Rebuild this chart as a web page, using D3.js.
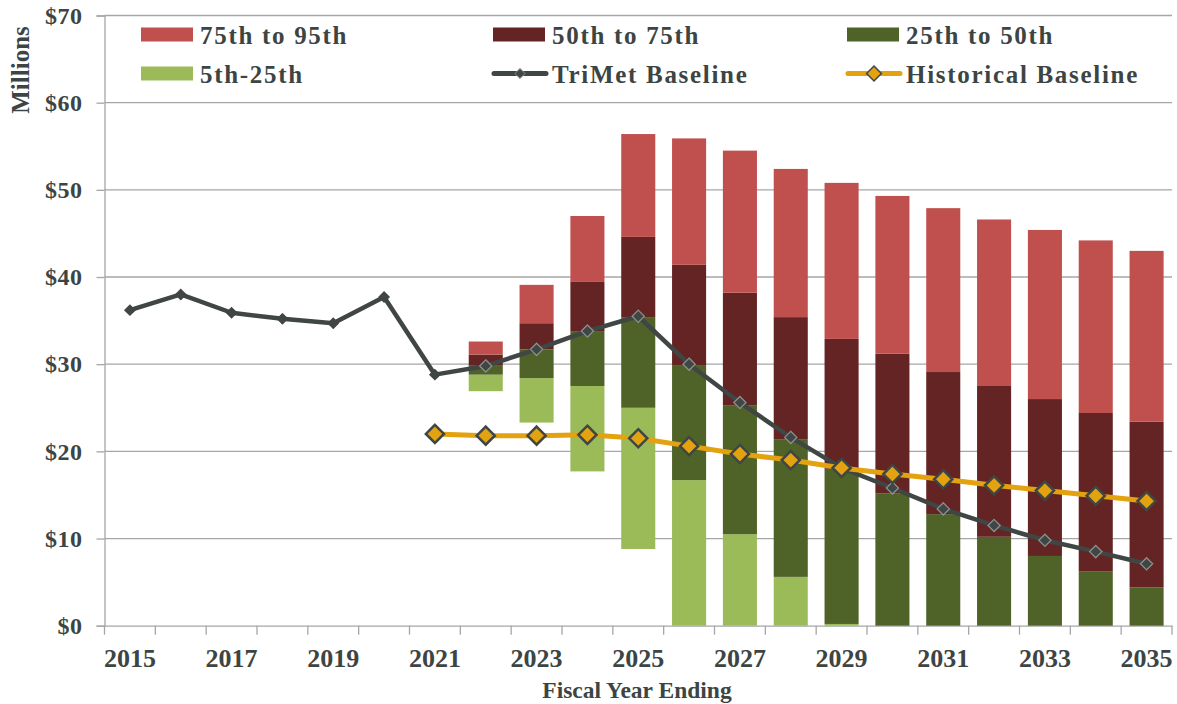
<!DOCTYPE html>
<html>
<head>
<meta charset="utf-8">
<script src="https://cdn.jsdelivr.net/npm/d3@7"></script>
<style>
  html, body { margin: 0; padding: 0; background: #fff; }
  svg { display: block; }
  text { font-family: "Liberation Serif", "Times New Roman", serif; font-weight: bold; fill: #3c4543; }
</style>
</head>
<body>
<svg id="chart" width="1177" height="704"></svg>
<script>
// Fiscal years shown on the x axis
const years = d3.range(2015, 2036);

// Baseline forecasts ($ millions)
const trimetBaseline = [36.2, 38.0, 35.9, 35.2, 34.7, 37.7, 28.8, 29.8, 31.7, 33.8, 35.5,
                        30.0, 25.6, 21.6, 18.1, 15.8, 13.4, 11.5, 9.8, 8.5, 7.1];
const historicalBaseline = [null, null, null, null, null, null,
                            22.0, 21.8, 21.8, 21.9, 21.5, 20.6, 19.7, 19.0, 18.1, 17.4,
                            16.8, 16.1, 15.5, 14.9, 14.3];

// Percentile outcomes for 2022-2035 ($ millions, floored at zero)
const rangeYears = d3.range(2022, 2036);
const pct05 = [26.9, 23.3, 17.7, 8.8, 0, 0, 0, 0, 0, 0, 0, 0, 0, 0];
const pct25 = [28.8, 28.4, 27.5, 25.0, 16.7, 10.5, 5.6, 0.2, 0, 0, 0, 0, 0, 0];
const pct50 = [29.9, 31.7, 33.8, 35.4, 29.9, 25.3, 21.4, 18.0, 15.2, 12.8, 10.2, 8.0, 6.2, 4.4];
const pct75 = [31.1, 34.7, 39.5, 44.6, 41.4, 38.2, 35.4, 32.9, 31.2, 29.1, 27.5, 26.0, 24.4, 23.4];
const pct95 = [32.6, 39.1, 47.0, 56.4, 55.9, 54.5, 52.4, 50.8, 49.3, 47.9, 46.6, 45.4, 44.2, 43.0];

// Y axis ticks
const yTicks = [0, 10, 20, 30, 40, 50, 60, 70];

// Bands: each spans two neighbouring percentiles
const bands = [
  { name: "5th-25th",     lo: pct05, hi: pct25, color: "#9bbb59" },
  { name: "25th to 50th", lo: pct25, hi: pct50, color: "#4f6228" },
  { name: "50th to 75th", lo: pct50, hi: pct75, color: "#632423" },
  { name: "75th to 95th", lo: pct75, hi: pct95, color: "#c0504d" }
];

const gridColor = "#a6a6a6";
const trimetColor = "#3f4644";
const histColor = "#e3a20f";

const svg = d3.select("#chart");
const plotLeft = 104.5, plotRight = 1172, plotTop = 15.5, plotBottom = 625.7;

const x = d3.scaleBand().domain(years).range([plotLeft, plotRight])
  .paddingInner(0.33).paddingOuter(0.165);
const y = d3.scaleLinear().domain([0, 70]).range([plotBottom, plotTop]);

// Horizontal gridlines
svg.append("g").selectAll("line").data(yTicks.filter(d => d > 0)).join("line")
  .attr("x1", plotLeft).attr("x2", plotRight)
  .attr("y1", d => y(d)).attr("y2", d => y(d))
  .attr("stroke", gridColor).attr("stroke-width", 1.3);

// Y axis
const yAxis = svg.append("g").attr("transform", `translate(${plotLeft},0)`)
  .call(d3.axisLeft(y).tickValues(yTicks).tickFormat(d => "$" + d).tickSize(8).tickPadding(14));
yAxis.select(".domain").attr("stroke", gridColor).attr("stroke-width", 1.3);
yAxis.selectAll(".tick line").attr("stroke", gridColor).attr("stroke-width", 1.3);
yAxis.selectAll(".tick text")
  .attr("font-size", 24).attr("letter-spacing", 0.5).attr("fill", "#3c4543")
  .style("font-family", '"Liberation Serif", "Times New Roman", serif').style("font-weight", "bold");

// X axis with ticks at band boundaries
const step = x.step();
const boundaries = d3.range(years.length + 1).map(i => plotLeft + i * step);
const xAxis = svg.append("g").attr("transform", `translate(0,${plotBottom})`)
  .call(d3.axisBottom(x).tickSize(0).tickPadding(23)
    .tickFormat(d => (d % 2 === 1 ? String(d) : "")));
xAxis.select(".domain").attr("stroke", gridColor).attr("stroke-width", 1.3);
xAxis.selectAll(".tick text")
  .attr("font-size", 26).attr("fill", "#3c4543")
  .style("font-family", '"Liberation Serif", "Times New Roman", serif').style("font-weight", "bold");
svg.append("g").selectAll("line").data(boundaries).join("line")
  .attr("x1", d => d).attr("x2", d => d)
  .attr("y1", plotBottom).attr("y2", plotBottom + 9)
  .attr("stroke", gridColor).attr("stroke-width", 1.3);

// Percentile range bars
bands.forEach(b => {
  svg.append("g").selectAll("rect").data(rangeYears.map((yr, i) => ({ yr, lo: b.lo[i], hi: b.hi[i] })))
    .join("rect")
    .attr("x", d => x(d.yr))
    .attr("width", x.bandwidth())
    .attr("y", d => y(d.hi))
    .attr("height", d => Math.max(0, y(d.lo) - y(d.hi)))
    .attr("fill", b.color);
});

// TriMet baseline line
const trimetPts = years.map((yr, i) => ({ yr, v: trimetBaseline[i] }));
svg.append("path").datum(trimetPts)
  .attr("d", d3.line().x(d => x(d.yr) + x.bandwidth() / 2).y(d => y(d.v)))
  .attr("fill", "none").attr("stroke", trimetColor).attr("stroke-width", 4.5)
  .attr("stroke-linejoin", "round");
svg.append("g").selectAll("path").data(trimetPts).join("path")
  .attr("transform", d => `translate(${x(d.yr) + x.bandwidth() / 2},${y(d.v)})`)
  .attr("d", d => d3.symbol().type(d3.symbolDiamond2).size(d.yr >= 2022 ? 95 : 65)())
  .attr("fill", trimetColor)
  .attr("stroke", d => (d.yr >= 2022 ? "#8a908e" : trimetColor)).attr("stroke-width", 1.3);

// Historical baseline line
const histPts = years.map((yr, i) => ({ yr, v: historicalBaseline[i] })).filter(d => d.v !== null);
svg.append("path").datum(histPts)
  .attr("d", d3.line().x(d => x(d.yr) + x.bandwidth() / 2).y(d => y(d.v)))
  .attr("fill", "none").attr("stroke", histColor).attr("stroke-width", 5)
  .attr("stroke-linejoin", "round");
svg.append("g").selectAll("path").data(histPts).join("path")
  .attr("transform", d => `translate(${x(d.yr) + x.bandwidth() / 2},${y(d.v)})`)
  .attr("d", d3.symbol().type(d3.symbolDiamond2).size(210)())
  .attr("fill", histColor).attr("stroke", "#3f4644").attr("stroke-width", 2.5);

// Legend
const legendItems = [
  { name: "75th to 95th", type: "rect", color: "#c0504d", lx: 141, row: 0 },
  { name: "50th to 75th", type: "rect", color: "#632423", lx: 493, row: 0 },
  { name: "25th to 50th", type: "rect", color: "#4f6228", lx: 847, row: 0 },
  { name: "5th-25th", type: "rect", color: "#9bbb59", lx: 141, row: 1 },
  { name: "TriMet Baseline", type: "trimet", color: trimetColor, lx: 493, row: 1 },
  { name: "Historical Baseline", type: "hist", color: histColor, lx: 847, row: 1 }
];
const rowY = [34.5, 73.5];
const lg = svg.append("g").selectAll("g").data(legendItems).join("g")
  .attr("transform", d => `translate(${d.lx},${rowY[d.row]})`);
lg.filter(d => d.type === "rect").append("rect")
  .attr("x", 0).attr("y", -7).attr("width", 52).attr("height", 14)
  .attr("fill", d => d.color);
lg.filter(d => d.type !== "rect").append("line")
  .attr("x1", 1).attr("x2", 53).attr("y1", 0).attr("y2", 0)
  .attr("stroke", d => d.color).attr("stroke-width", 5).attr("stroke-linecap", "round");
lg.filter(d => d.type === "trimet").append("path")
  .attr("transform", "translate(27,0)").attr("d", d3.symbol().type(d3.symbolDiamond2).size(65)())
  .attr("fill", trimetColor).attr("stroke", "#8a908e").attr("stroke-width", 1);
lg.filter(d => d.type === "hist").append("path")
  .attr("transform", "translate(27,0)").attr("d", d3.symbol().type(d3.symbolDiamond2).size(140)())
  .attr("fill", histColor).attr("stroke", "#3f4644").attr("stroke-width", 1.5);
lg.append("text")
  .attr("x", 59).attr("y", 9.5)
  .attr("font-size", 25).attr("letter-spacing", 1.7)
  .text(d => d.name);

// Axis titles
svg.append("text")
  .attr("transform", "translate(28.5,70) rotate(-90)")
  .attr("text-anchor", "middle").attr("font-size", 25)
  .text("Millions");
svg.append("text")
  .attr("x", 637).attr("y", 698)
  .attr("text-anchor", "middle").attr("font-size", 23.5)
  .text("Fiscal Year Ending");
</script>
</body>
</html>
